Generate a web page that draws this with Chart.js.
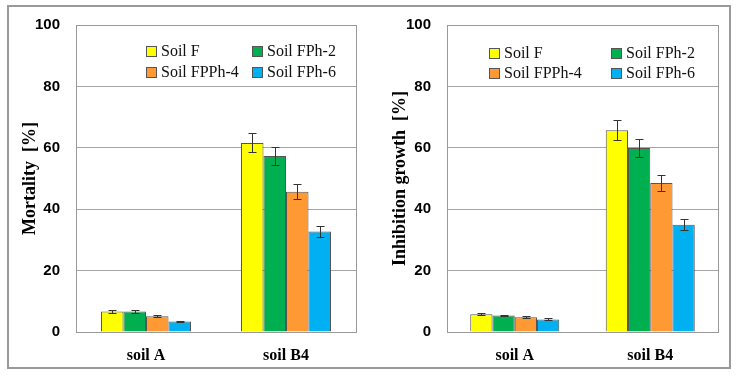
<!DOCTYPE html>
<html>
<head>
<meta charset="utf-8">
<script src="https://cdn.jsdelivr.net/npm/chart.js@4/dist/chart.umd.min.js"></script>
<style>
  body { margin: 0; background: #fff; width: 736px; height: 375px; position: relative; overflow: hidden; }
  #frame { position: absolute; left: 7px; top: 5px; width: 720px; height: 360px; border: 2px solid #9a9a9a; }
  .panel { position: absolute; top: 0; width: 368px; height: 375px; }
  .item { position: absolute; display: flex; align-items: center; height: 18px; white-space: nowrap;
          font-family: "Liberation Serif", serif; font-size: 16px; color: #111; }
  .sw { width: 9px; height: 9px; border: 1px solid #555; margin-right: 4px; }
</style>
</head>
<body>
<div id="frame"></div>
<div class="panel" style="left:0"><canvas id="mort" width="368" height="375"></canvas></div>
<div class="panel" style="left:368px"><canvas id="inhib" width="368" height="375"></canvas></div>
<div id="legends"></div>

<script>
const categories = ["soil A", "soil B4"];
const seriesNames = ["Soil F", "Soil FPh-2", "Soil FPPh-4", "Soil FPh-6"];
const seriesColors = ["#FFFF00", "#00B050", "#FF9933", "#00B0F0"];
const yTicks = [0, 20, 40, 60, 80, 100];

// Mortality [%], one array per soil series: [soil A, soil B4]
const mortSoilF = [6.7, 61.6];
const mortSoilFPh2 = [6.7, 57.3];
const mortSoilFPPh4 = [5.1, 45.7];
const mortSoilFPh6 = [3.4, 32.7];
const mortErrF = [0.4, 3.1];
const mortErrFPh2 = [0.4, 2.9];
const mortErrFPPh4 = [0.3, 2.4];
const mortErrFPh6 = [0.2, 1.7];

// Inhibition growth [%]
const inhSoilF = [5.8, 65.7];
const inhSoilFPh2 = [5.4, 59.9];
const inhSoilFPPh4 = [4.8, 48.5];
const inhSoilFPh6 = [4.1, 34.9];
const inhErrF = [0.4, 3.2];
const inhErrFPh2 = [0.3, 3.0];
const inhErrFPPh4 = [0.3, 2.5];
const inhErrFPh6 = [0.3, 1.8];

const errorBars = {
  id: "errorBars",
  afterDatasetsDraw(chart) {
    const ctx = chart.ctx;
    const y = chart.scales.y;
    ctx.save();
    ctx.strokeStyle = "#333";
    ctx.lineWidth = 1;
    chart.data.datasets.forEach((ds, i) => {
      const meta = chart.getDatasetMeta(i);
      meta.data.forEach((bar, j) => {
        const v = ds.data[j], e = ds.errors[j];
        const top = Math.round(y.getPixelForValue(v + e)) + 0.5;
        const bot = Math.round(y.getPixelForValue(v - e)) + 0.5;
        const x = Math.round(bar.x) + 0.5;
        ctx.beginPath();
        ctx.moveTo(x, top); ctx.lineTo(x, bot);
        ctx.moveTo(x - 4, top); ctx.lineTo(x + 4, top);
        ctx.moveTo(x - 4, bot); ctx.lineTo(x + 4, bot);
        ctx.stroke();
      });
    });
    ctx.restore();
  }
};

const plotFrame = {
  id: "plotFrame",
  afterDraw(chart) {
    const a = chart.chartArea;
    const ctx = chart.ctx;
    ctx.save();
    ctx.strokeStyle = "#999";
    ctx.lineWidth = 1;
    ctx.strokeRect(Math.round(a.left) + 0.5, Math.round(a.top) + 0.5,
                   Math.round(a.right - a.left), Math.round(a.bottom - a.top));
    ctx.restore();
  }
};

function makeChart(id, values, errs, title, opts) {
  const datasets = seriesNames.map((name, i) => ({
    label: name,
    data: values[i],
    errors: errs[i],
    backgroundColor: seriesColors[i],
    borderColor: "#555",
    borderWidth: 1,
    categoryPercentage: opts.groupPct,
    barPercentage: 1
  }));

  new Chart(document.getElementById(id), {
    type: "bar",
    data: { labels: categories, datasets },
    plugins: [errorBars, plotFrame],
    options: {
      responsive: false,
      animation: false,
      events: [],
      layout: { padding: { left: 0, right: opts.right, top: 24, bottom: 0 } },
      plugins: { legend: { display: false }, tooltip: { enabled: false } },
      scales: {
        x: {
          grid: { display: false },
          border: { display: false },
          ticks: {
            color: "#000",
            padding: 6,
            font: { family: "Liberation Serif", size: 16, weight: "bold" }
          },
          afterFit: (s) => { s.height = 43; }
        },
        y: {
          min: 0,
          max: 100,
          afterBuildTicks: (s) => { s.ticks = yTicks.map(v => ({ value: v })); },
          grid: { color: "#a6a6a6", drawTicks: false },
          border: { display: false },
          ticks: {
            color: "#000",
            padding: 16,
            font: { family: "Liberation Sans", size: 15, weight: "bold" }
          },
          title: {
            display: true,
            text: title,
            color: "#000",
            padding: { top: opts.titlePad, bottom: 0 },
            font: { family: "Liberation Serif", size: 18, weight: "bold" }
          },
          afterFit: (s) => { s.width = opts.yWidth; }
        }
      }
    }
  });
}

makeChart("mort",
  [mortSoilF, mortSoilFPh2, mortSoilFPPh4, mortSoilFPh6],
  [mortErrF, mortErrFPh2, mortErrFPPh4, mortErrFPh6],
  "Mortality  [%]",
  { right: 12, yWidth: 76, groupPct: 0.643, titlePad: 20 });

makeChart("inhib",
  [inhSoilF, inhSoilFPh2, inhSoilFPPh4, inhSoilFPh6],
  [inhErrF, inhErrFPh2, inhErrFPPh4, inhErrFPh6],
  "Inhibition growth  [%]",
  { right: 18, yWidth: 79, groupPct: 0.657, titlePad: 22 });

// legends (two columns, two rows) placed inside each plot area
const legendSpots = [
  { cols: [146, 252], rows: [51, 72] },
  { cols: [489, 611], rows: [53, 73] }
];
const legendBox = document.getElementById("legends");
legendSpots.forEach(spot => {
  seriesNames.forEach((name, i) => {
    const item = document.createElement("div");
    item.className = "item";
    item.style.left = spot.cols[i % 2] + "px";
    item.style.top = (spot.rows[Math.floor(i / 2)] - 9) + "px";
    const sw = document.createElement("span");
    sw.className = "sw";
    sw.style.background = seriesColors[i];
    item.appendChild(sw);
    item.appendChild(document.createTextNode(name));
    legendBox.appendChild(item);
  });
});
</script>
</body>
</html>
